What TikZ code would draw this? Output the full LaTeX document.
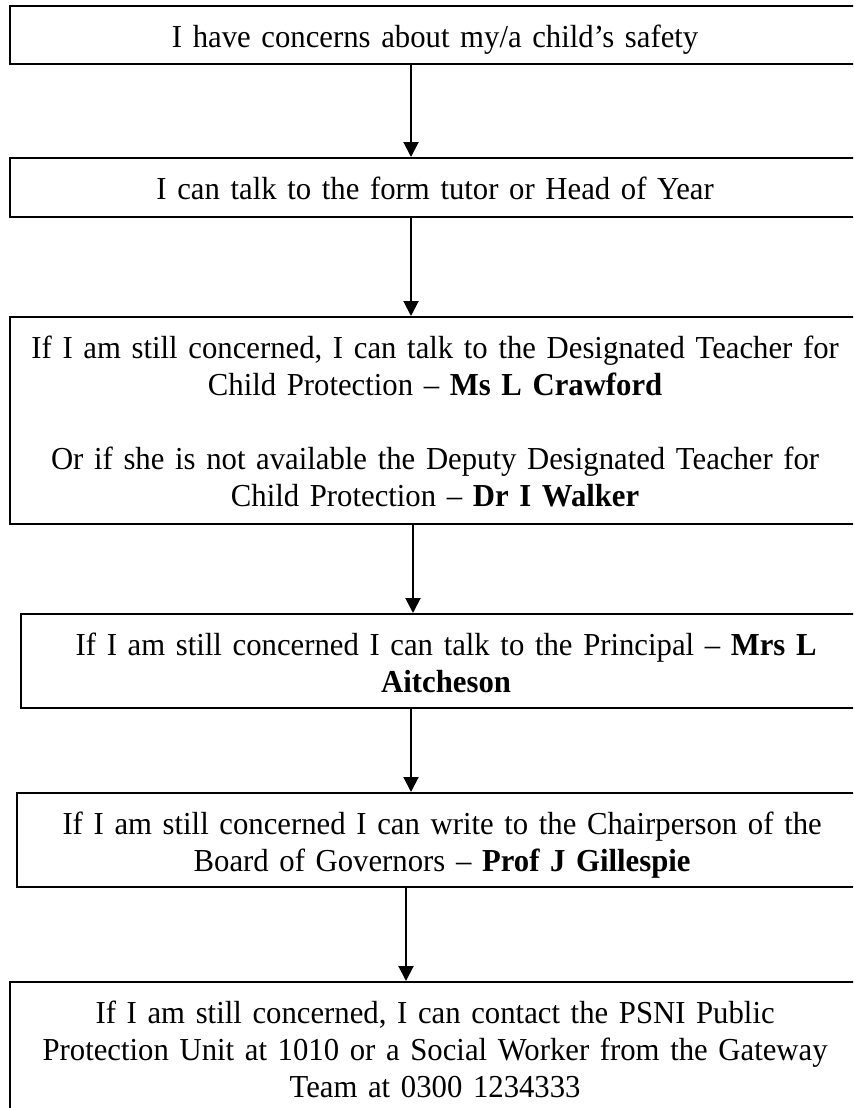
\documentclass[tikz,border=0pt]{standalone}
\usepackage{fontspec}
\setmainfont[FakeStretch=0.96]{Liberation Serif}
\usetikzlibrary{arrows.meta}
\begin{document}
\begin{tikzpicture}[x=0.5pt,y=-0.5pt,
  flowbox/.style={draw,line width=1.1pt,anchor=north west,inner sep=0pt,
    text width=425pt,align=center,text height=20.5pt,
    font=\fontsize{16}{18.5}\selectfont},
  flowarrow/.style={line width=1pt,-{Triangle[length=7.5pt,width=7.5pt]}}]
\useasboundingbox (0,0) rectangle (853,1108);
\clip (0,0) rectangle (853,1108);

\node[flowbox,text depth=8.5pt] (concern) at (9,5)
  {I have concerns about my/a child’s safety};
\node[flowbox,text depth=9pt] (tutor) at (9,157)
  {I can talk to the form tutor or Head of Year};
\node[flowbox,text depth=83pt] (designated) at (9,316)
  {If I am still concerned, I can talk to the Designated Teacher for\\
   Child Protection – \textbf{Ms L Crawford}\\[18.5pt]
   Or if she is not available the Deputy Designated Teacher for\\
   Child Protection – \textbf{Dr I Walker}};
\node[flowbox,text depth=26.5pt] (principal) at (20,613)
  {If I am still concerned I can talk to the Principal – \textbf{Mrs L}\\
   \textbf{Aitcheson}};
\node[flowbox,text depth=26.5pt] (governors) at (16,792)
  {If I am still concerned I can write to the Chairperson of the\\
   Board of Governors – \textbf{Prof J Gillespie}};
\node[flowbox,text depth=55pt] (psni) at (9,981)
  {If I am still concerned, I can contact the PSNI Public\\
   Protection Unit at 1010 or a Social Worker from the Gateway\\
   Team at 0300 1234333};

\draw[flowarrow] (concern.south -| 411,0) -- (tutor.north -| 411,0);
\draw[flowarrow] (tutor.south -| 411,0) -- (designated.north -| 411,0);
\draw[flowarrow] (designated.south -| 413,0) -- (principal.north -| 413,0);
\draw[flowarrow] (principal.south -| 411,0) -- (governors.north -| 411,0);
\draw[flowarrow] (governors.south -| 406,0) -- (psni.north -| 406,0);
\end{tikzpicture}
\end{document}
